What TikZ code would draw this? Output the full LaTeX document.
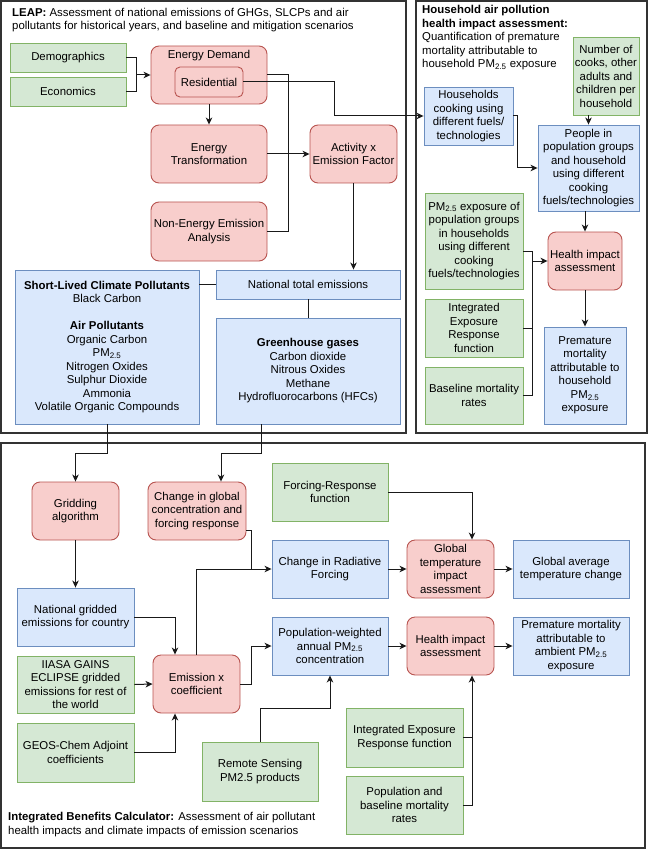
\documentclass[tikz,border=0pt]{standalone}
\usepackage{fontspec}
\setmainfont{Liberation Sans}
\usetikzlibrary{arrows.meta}
\definecolor{gfill}{HTML}{D5E8D4}
\definecolor{gline}{HTML}{82B366}
\definecolor{rfill}{HTML}{F8CECC}
\definecolor{rline}{HTML}{B85450}
\definecolor{bfill}{HTML}{DAE8FC}
\definecolor{bline}{HTML}{6C8EBF}
\definecolor{framec}{HTML}{333333}

\begin{document}
\begin{tikzpicture}
	[x=1pt,y=-1pt,
	every node/.style={font=\fontsize{11.4}{13.5}\selectfont,align=center,inner sep=0pt},
	sz/.style 2 args={minimum width=#1pt,minimum height=#2pt},
	gbox/.style={draw=gline,fill=gfill,line width=0.9pt},
	rbox/.style={draw=rline,fill=rfill,line width=0.9pt,rounded corners=8pt},
	bbox/.style={draw=bline,fill=bfill,line width=0.9pt},
	frame/.style={draw=framec,line width=1.2pt},
	link/.style={draw=black!90,line width=1pt},
	>={Stealth[length=7pt,width=6.5pt,inset=2pt]}]
	\useasboundingbox (0,0) rectangle (649,850);

	% frames
	\draw[frame] (1,1) rectangle (406,433);
	\draw[frame] (416,1) rectangle (647,433);
	\draw[frame] (1,443) rectangle (645,848);

	% LEAP
	\node[anchor=north west,align=left] (leapt) at (12,8) {\textbf{LEAP:} Assessment of national emissions of GHGs, SLCPs and air\\pollutants for historical years, and baseline and mitigation scenarios};
	\node[gbox,sz={116}{29}] (dem) at (68,57.5) {Demographics};
	\node[gbox,sz={116}{29}] (eco) at (68,91.5) {Economics};
	\node[rbox,sz={116}{58}] (ed) at (209,75) {};
	\node (edt) at (209,56) {Energy Demand};
	\node[rbox,rounded corners=5pt,sz={68}{30}] (res) at (209,82) {Residential};
	\node[rbox,sz={116}{58}] (et) at (209,154) {Energy\\Transformation};
	\node[rbox,sz={116}{59}] (nee) at (209,231.5) {Non-Energy Emission\\Analysis};
	\node[rbox,sz={87}{58}] (act) at (353.5,154) {Activity x\\Emission Factor};
	\node[bbox,sz={184}{29}] (nat) at (308,284.5) {National total emissions};
	\node[bbox,sz={184}{154}] (slcp) at (107,347) {\textbf{Short-Lived Climate Pollutants}\\Black Carbon\\[13.5pt]\textbf{Air Pollutants}\\Organic Carbon\\PM\textsubscript{2.5}\\Nitrogen Oxides\\Sulphur Dioxide\\Ammonia\\Volatile Organic Compounds};
	\node[bbox,sz={184}{106}] (ghg) at (308,371) {\textbf{Greenhouse gases}\\Carbon dioxide\\Nitrous Oxides\\Methane\\Hydrofluorocarbons (HFCs)};

	% household
	\node[anchor=north west,align=left] (hht) at (422,5.5) {\textbf{Household air pollution}\\\textbf{health impact assessment:}\\Quantification of premature\\mortality attributable to\\household PM\textsubscript{2.5} exposure};
	\node[bbox,sz={89}{58}] (hh) at (468.5,116) {Households\\cooking using\\different fuels/\\technologies};
	\node[gbox,sz={66}{78}] (cooks) at (606,76) {Number of\\cooks, other\\adults and\\children per\\household};
	\node[bbox,sz={101}{86}] (ppl) at (588.5,168) {People in\\population groups\\and household\\using different\\cooking\\fuels/technologies};
	\node[gbox,sz={98}{96}] (pmexp) at (474,241) {PM\textsubscript{2.5} exposure of\\population groups\\in households\\using different\\cooking\\fuels/technologies};
	\node[gbox,sz={98}{58}] (ier1) at (474,328) {Integrated\\Exposure\\Response\\function};
	\node[gbox,sz={98}{57}] (bmr) at (474,395.5) {Baseline mortality\\rates};
	\node[rbox,sz={74}{58}] (hia1) at (585,261) {Health impact\\assessment};
	\node[bbox,sz={82}{97}] (pmh) at (585,375.5) {Premature\\mortality\\attributable to\\household\\PM\textsubscript{2.5}\\exposure};

	% IBC
	\node[anchor=north west,align=left] (ibct) at (8,812.5) {\textbf{Integrated Benefits Calculator:} Assessment of air pollutant\\health impacts and climate impacts of emission scenarios};
	\node[rbox,sz={87}{58}] (grid) at (75.5,511) {Gridding\\algorithm};
	\node[rbox,sz={98}{58}] (cgc) at (197,511) {Change in global\\concentration and\\forcing response};
	\node[gbox,sz={116}{58}] (frf) at (330,492) {Forcing-Response\\function};
	\node[bbox,sz={116}{58}] (crf) at (330,569) {Change in Radiative\\Forcing};
	\node[rbox,sz={87}{58}] (gti) at (450.5,569) {Global\\temperature\\impact\\assessment};
	\node[bbox,sz={116}{58}] (gat) at (571,569) {Global average\\temperature change};
	\node[bbox,sz={117}{58}] (ngr) at (75.5,617) {National gridded\\emissions for country};
	\node[gbox,sz={117}{57}] (iiasa) at (75.5,684.5) {IIASA GAINS\\ECLIPSE gridded\\emissions for rest of\\the world};
	\node[gbox,sz={117}{59}] (geos) at (75.5,752.5) {GEOS-Chem Adjoint\\coefficients};
	\node[rbox,sz={87}{58}] (emc) at (196.5,684) {Emission x\\coefficient};
	\node[bbox,sz={116}{58}] (pwc) at (330,646) {Population-weighted\\annual PM\textsubscript{2.5}\\concentration};
	\node[gbox,sz={116}{59}] (rs) at (260,771.5) {Remote Sensing\\PM2.5 products};
	\node[rbox,sz={87}{58}] (hia2) at (450.5,646) {Health impact\\assessment};
	\node[bbox,sz={116}{58}] (pma) at (571,646) {Premature mortality\\attributable to\\ambient PM\textsubscript{2.5}\\exposure};
	\node[gbox,sz={117}{59}] (ier2) at (404.5,737.5) {Integrated Exposure\\Response function};
	\node[gbox,sz={117}{58}] (pbm) at (404.5,805) {Population and\\baseline mortality\\rates};

	% junctions
	\coordinate (j1) at (136,75);
	\coordinate (j2) at (288,154);
	\coordinate (j3) at (334,82);
	\coordinate (j4) at (517,116);
	\coordinate (j5) at (532,261);
	\coordinate (j6) at (107,453);
	\coordinate (j7) at (261,453);
	\coordinate (j8) at (251,569);
	\coordinate (j9) at (251,684);
	\coordinate (j10) at (260,708);
	\coordinate (j11) at (472,737.5);

	% LEAP links
	\draw[link] (dem.east) -| (j1);
	\draw[link] (eco.east) -| (j1);
	\draw[link,->] (j1) -- (ed.west);
	\draw[link,->] (ed.south) -- (et.north);
	\draw[link] (ed.east) -| (j2);
	\draw[link] (nee.east) -| (j2);
	\draw[link,->] (et.east) -- (act.west);
	\draw[link,->] (act.south) -- (act.south |- nat.north);
	\draw[link] (nat.west) -- (nat.west -| slcp.east);
	\draw[link] (nat.south) -- (ghg.north);
	\draw[link,->] (res.east) -- (j3) |- (hh.west);

	% household links
	\draw[link,->] (hh.east) -- (j4) |- (ppl.west);
	\draw[link,->] (ppl.north |- cooks.south) -- (ppl.north);
	\draw[link,->] (hia1.north |- ppl.south) -- (hia1.north);
	\draw[link] ([yshift=-10pt]pmexp.east) -| (j5);
	\draw[link] (ier1.east) -| (j5);
	\draw[link] (bmr.east) -| (j5);
	\draw[link,->] (j5) -- (hia1.west);
	\draw[link,->] (hia1.south) -- (pmh.north);

	% IBC links
	\draw[link,->] (slcp.south) -- (j6) -| (grid.north);
	\draw[link,->] ([xshift=-47pt]ghg.south) -- (j7) -| ([xshift=24pt]cgc.north);
	\draw[link,->] (grid.south) -- (ngr.north);
	\draw[link,->] (frf.east) -| ([xshift=21.5pt]gti.north);
	\draw[link] ([yshift=-19pt]cgc.east) -| (j8);
	\draw[link,->] (emc.north) |- (crf.west);
	\draw[link,->] (crf.east) -- (gti.west);
	\draw[link,->] (gti.east) -- (gat.west);
	\draw[link,->] (ngr.east) -| ([xshift=-21.5pt]emc.north);
	\draw[link,->] (iiasa.east) -- (emc.west);
	\draw[link,->] (geos.east) -| ([xshift=-21.5pt]emc.south);
	\draw[link,->] (emc.east) -- (j9) |- (pwc.west);
	\draw[link,->] (rs.north) -- (j10) -| (pwc.south);
	\draw[link,->] (pwc.east) -- (hia2.west);
	\draw[link,->] (hia2.east) -- (pma.west);
	\draw[link] (ier2.east) -- (j11);
	\draw[link,->] (pbm.east) -| ([xshift=21.5pt]hia2.south);
\end{tikzpicture}
\end{document}
